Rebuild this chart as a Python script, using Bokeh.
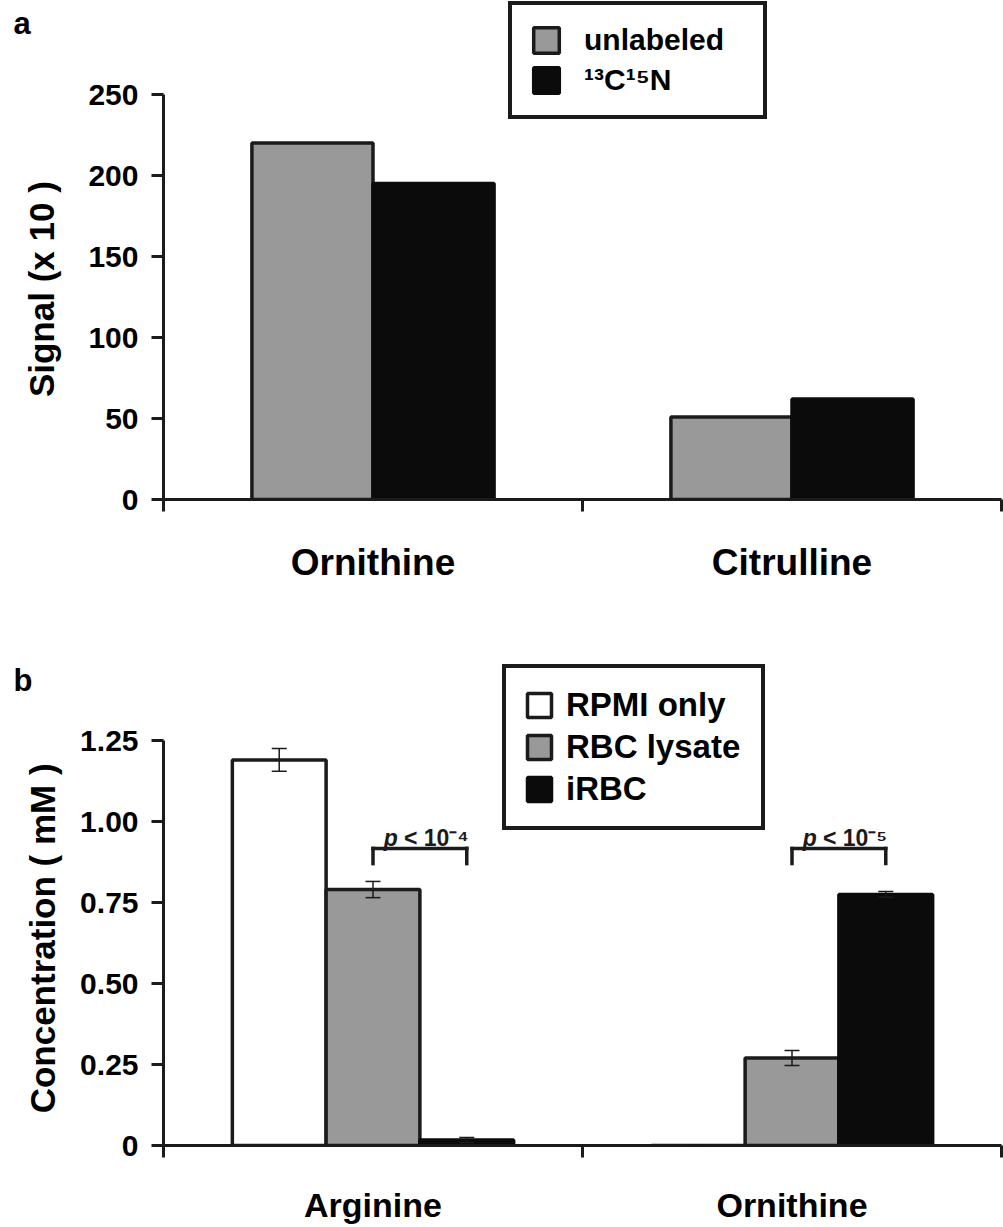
import math
from bokeh.plotting import figure
from bokeh.models import (Range1d, FixedTicker, Whisker, ColumnDataSource, TeeHead, Label)
from bokeh.layouts import column, row
from bokeh.transform import dodge
from bokeh.core.properties import value
from bokeh.embed import file_html
from bokeh.resources import INLINE

# ---------------- data: panel a ----------------
a_categories = ["Ornithine", "Citrulline"]
a_series = ["unlabeled", "¹³C¹⁵N"]
a_unlabeled = [220, 51]
a_labeled = [195, 62]
a_yticks = [0, 50, 100, 150, 200, 250]
a_ylabel = "Signal (x 10 )"

# ---------------- data: panel b ----------------
b_categories = ["Arginine", "Ornithine"]
b_series = ["RPMI only", "RBC lysate", "iRBC"]
b_rpmi = [1.19, 0.0]
b_rpmi_err = [0.035, 0.0]
b_lysate = [0.79, 0.27]
b_lysate_err = [0.025, 0.023]
b_irbc = [0.017, 0.775]
b_irbc_err = [0.008, 0.009]
b_yticks = [0, 0.25, 0.5, 0.75, 1.0, 1.25]
b_ytick_labels = ["0", "0.25", "0.50", "0.75", "1.00", "1.25"]
b_pvalues = ["10⁻⁴", "10⁻⁵"]
b_ylabel = "Concentration ( mM )"

FONT = "Liberation Sans"
DARK = "#1c1a1b"
GRAY = "#999999"
BLACK = "#0b0b0c"
WHITE = "#ffffff"

PX_AXIS = 405   # pixel height of the drawn y axis
SIDE_W = 76     # width of the strip holding the panel letter and y-axis title


def make_fig(cats, ymax, yticks, frame_h, bottom, cat_standoff, cat_size):
    n = len(cats)
    # the frame extends above the axis so the legend is not clipped; axis is bounded
    y_end = ymax * frame_h / PX_AXIS
    p = figure(x_range=Range1d(0, n), y_range=Range1d(0, y_end), title=None,
               frame_width=838, frame_height=frame_h,
               min_border_left=163 - SIDE_W, min_border_right=2,
               min_border_top=0, min_border_bottom=bottom,
               output_backend="svg", toolbar_location=None,
               outline_line_color=None,
               background_fill_color=WHITE, border_fill_color=WHITE)
    p.xgrid.visible = False
    p.ygrid.visible = False

    ya = p.yaxis[0]
    ya.bounds = (0, ymax)
    ya.ticker = FixedTicker(ticks=yticks, minor_ticks=[])
    ya.axis_line_width = 3
    ya.axis_line_color = DARK
    ya.major_tick_out = 12
    ya.major_tick_in = 0
    ya.major_tick_line_width = 3
    ya.major_tick_line_color = DARK
    ya.minor_tick_line_color = None
    ya.major_label_text_font = FONT
    ya.major_label_text_font_size = "30px"
    ya.major_label_text_font_style = "bold"
    ya.major_label_text_color = "black"
    ya.major_label_standoff = 13

    xa = p.xaxis[0]
    xa.ticker = FixedTicker(ticks=[i + 0.5 for i in range(n)], minor_ticks=list(range(n + 1)))
    xa.major_label_overrides = {i + 0.5: c for i, c in enumerate(cats)}
    xa.major_tick_out = 0
    xa.major_tick_in = 0
    xa.major_tick_line_color = None
    xa.minor_tick_out = 12
    xa.minor_tick_in = 0
    xa.minor_tick_line_width = 3
    xa.minor_tick_line_color = DARK
    xa.axis_line_width = 3
    xa.axis_line_color = DARK
    xa.major_label_standoff = cat_standoff
    xa.major_label_text_font = FONT
    xa.major_label_text_font_size = cat_size
    xa.major_label_text_font_style = "bold"
    xa.major_label_text_color = "black"
    return p


def side_strip(height, letter, letter_baseline, ylabel, ylabel_y, ylabel_x):
    # pixel-like coordinates: x to the right, y downwards
    s = figure(width=SIDE_W, height=height, x_range=Range1d(0, SIDE_W),
               y_range=Range1d(height, 0), title=None,
               min_border_left=0, min_border_right=0, min_border_top=0, min_border_bottom=0,
               output_backend="svg", toolbar_location=None, outline_line_color=None,
               x_axis_location=None, y_axis_location=None,
               background_fill_color=WHITE, border_fill_color=WHITE)
    s.xgrid.visible = False
    s.ygrid.visible = False
    s.add_layout(Label(x=13, y=letter_baseline, text=letter, text_font=FONT,
                       text_font_size="31px", text_font_style="bold", text_color="black",
                       text_align="left", text_baseline="alphabetic"))
    s.add_layout(Label(x=ylabel_x, y=ylabel_y, text=ylabel, angle=math.pi / 2,
                       text_font=FONT, text_font_size="35px", text_font_style="bold",
                       text_color="black", text_align="center", text_baseline="alphabetic"))
    return s


def style_legend(leg, loc, pad, spacing, glyph, lwidth, standoff, fsize):
    leg.location = loc
    leg.margin = 0
    leg.padding = pad
    leg.spacing = spacing
    leg.glyph_width = glyph
    leg.glyph_height = glyph
    leg.label_height = glyph
    leg.label_width = lwidth
    leg.label_standoff = standoff
    leg.border_line_color = DARK
    leg.border_line_alpha = 1
    leg.border_line_width = 4
    leg.background_fill_color = WHITE
    leg.background_fill_alpha = 1
    leg.label_text_font = FONT
    leg.label_text_font_size = fsize
    leg.label_text_font_style = "bold"
    leg.label_text_color = "black"


# ================= panel a =================
A_W = 0.289   # bar width as a fraction of one category
A_FRAME, A_BOTTOM = 499, 113
pa = make_fig(a_categories, 250, a_yticks, A_FRAME, A_BOTTOM, 30, "37px")
a_centers = [i + 0.5 for i in range(len(a_categories))]
for k, (name, vals, color) in enumerate(zip(a_series, [a_unlabeled, a_labeled], [GRAY, BLACK])):
    off = (k - (len(a_series) - 1) / 2) * A_W
    src = ColumnDataSource(dict(x=a_centers, top=vals))
    pa.vbar(x=dodge("x", off), top="top", width=A_W, source=src, fill_color=color,
            line_color=DARK if color != BLACK else BLACK, line_width=3.5,
            legend_label=name)

style_legend(pa.legend[0], (345, 380), 18, 6, 32, 161, 22, "30px")
sa = side_strip(A_FRAME + A_BOTTOM, "a", 28, a_ylabel, 354, 41)

# ================= panel b =================
B_W = 0.2238
B_FRAME, B_BOTTOM = 533, 82
pb = make_fig(b_categories, 1.25, b_yticks, B_FRAME, B_BOTTOM, 28, "34px")
pb.yaxis[0].major_label_overrides = {t: s for t, s in zip(b_yticks, b_ytick_labels)}
b_centers = [i + 0.5 for i in range(len(b_categories))]
b_offsets = {}
for k, (name, vals, errs, color) in enumerate(zip(b_series, [b_rpmi, b_lysate, b_irbc],
                                                  [b_rpmi_err, b_lysate_err, b_irbc_err],
                                                  [WHITE, GRAY, BLACK])):
    off = (k - (len(b_series) - 1) / 2) * B_W
    b_offsets[name] = off
    src = ColumnDataSource(dict(x=b_centers, top=vals,
                                upper=[v + e for v, e in zip(vals, errs)],
                                lower=[v - e for v, e in zip(vals, errs)]))
    pb.vbar(x=dodge("x", off), top="top", width=B_W, source=src, fill_color=color,
            line_color=DARK if color != BLACK else BLACK, line_width=3.5,
            legend_label=name)
    pb.add_layout(Whisker(source=src, base=dodge("x", off), upper="upper", lower="lower",
                          level="annotation", line_width=1.5, line_color=DARK,
                          upper_head=TeeHead(size=15, line_width=1.5, line_color=DARK),
                          lower_head=TeeHead(size=15, line_width=1.5, line_color=DARK)))

# significance brackets between RBC lysate and iRBC
BR_LOW, BR_HIGH, P_Y = 0.87, 0.917, 0.948
og, ob = b_offsets["RBC lysate"], b_offsets["iRBC"]
bsrc = ColumnDataSource(dict(x=b_centers, lo=[BR_LOW] * len(b_centers), hi=[BR_HIGH] * len(b_centers),
                             y=[P_Y] * len(b_centers), p=["p"] * len(b_centers),
                             rest=["< " + v for v in b_pvalues]))
for x0, y0, x1, y1 in [(og, "lo", og, "hi"), (og, "hi", ob, "hi"), (ob, "hi", ob, "lo")]:
    pb.segment(x0=dodge("x", x0), y0=y0, x1=dodge("x", x1), y1=y1, source=bsrc,
               line_width=3.5, line_color=DARK, line_cap="square")
mid = (og + ob) / 2
pb.text(x=dodge("x", mid), y="y", text="p", source=bsrc,
        text_align="right", text_baseline="alphabetic", x_offset=-22,
        text_font=value(FONT), text_font_size="23px", text_font_style="bold italic",
        text_color=DARK)
pb.text(x=dodge("x", mid), y="y", text="rest", source=bsrc,
        text_align="left", text_baseline="alphabetic", x_offset=-16,
        text_font=value(FONT), text_font_size="23px", text_font_style="bold",
        text_color=DARK)

style_legend(pb.legend[0], (339, 315), 18, 4, 30, 177, 12, "33px")
sb = side_strip(B_FRAME + B_BOTTOM, "b", 78, b_ylabel, 376, 42)

layout = column(row(sa, pa), row(sb, pb))
open("out.html", "w").write(file_html(layout, INLINE))
